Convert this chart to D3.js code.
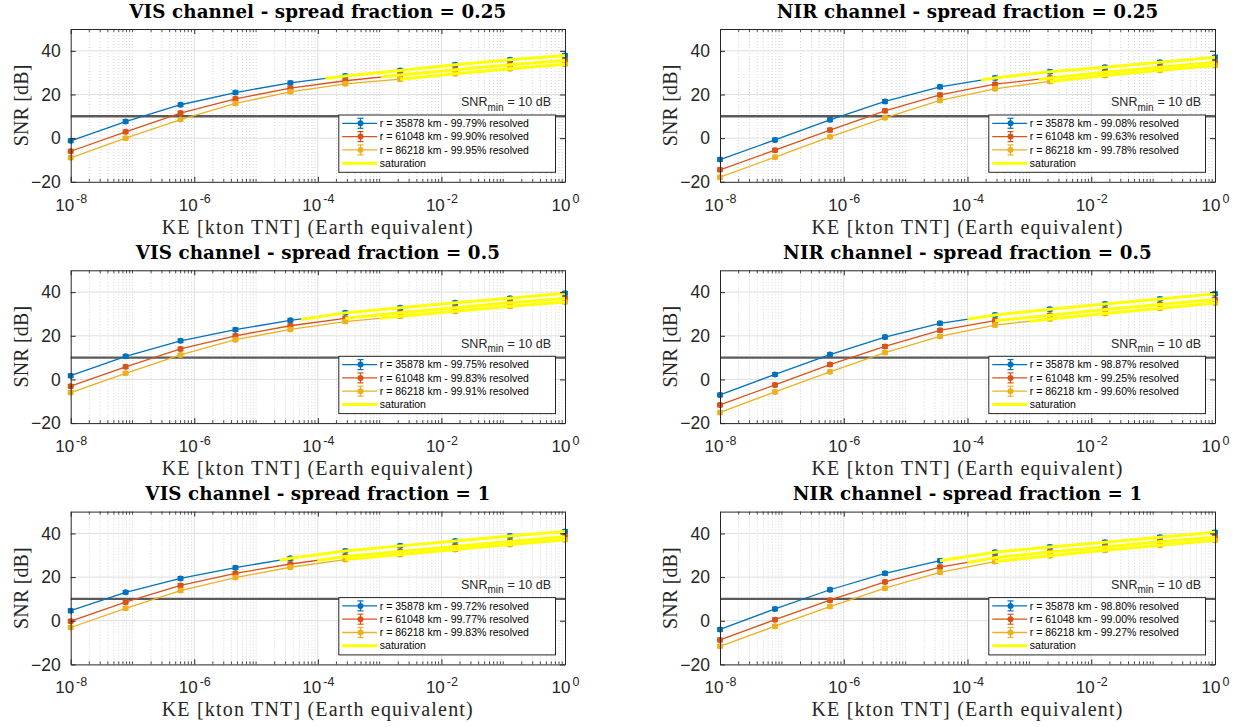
<!DOCTYPE html>
<html><head><meta charset="utf-8">
<script src="https://cdn.jsdelivr.net/npm/d3@7"></script>
<style>body{margin:0;background:#fff}</style>
</head><body>
<svg id="c" width="1240" height="727"></svg>
<script>
// ---------- data ----------
const keValues = [1e-8, 7.74e-8, 5.99e-7, 4.64e-6, 3.59e-5, 2.78e-4, 2.15e-3, 1.67e-2, 1.29e-1, 1];
const rangesKm = [35878, 61048, 86218];
const xMajorTicks = [1e-8, 1e-6, 1e-4, 1e-2, 1];
const xTickExponents = ["-8", "-6", "-4", "-2", "0"];
const yTicks = [-20, 0, 20, 40];
const snrMin = 10;
const errDb = 0.8;

// VIS, spread fraction 0.25
const snrVis025_r1 = [-1.2, 7.6, 15.3, 20.9, 25.3, 28.5, 31.0, 33.6, 35.9, 37.9];
const snrVis025_r2 = [-6.0, 2.9, 11.5, 18.0, 22.9, 26.3, 28.9, 31.3, 33.6, 35.6];
const snrVis025_r3 = [-9.0, 0.0, 8.5, 15.9, 21.2, 24.9, 27.0, 29.5, 31.8, 33.9];
const resVis025 = ["99.79", "99.90", "99.95"];
const satKEVis025 = [1.32e-4, 1.05e-3, 2.15e-3];
const satSNRVis025 = [27.3, 28.0, 27.0];

// NIR, spread fraction 0.25
const snrNir025_r1 = [-9.8, -0.8, 8.4, 16.8, 23.5, 27.6, 30.4, 32.5, 34.8, 37.1];
const snrNir025_r2 = [-14.5, -5.5, 3.7, 12.5, 19.8, 24.7, 27.6, 30.2, 32.5, 34.7];
const snrNir025_r3 = [-17.9, -8.7, 0.6, 9.3, 17.3, 22.6, 26.0, 28.7, 31.1, 33.3];
const resNir025 = ["99.08", "99.63", "99.78"];
const satKENir025 = [1.66e-4, 1.41e-3, 2.15e-3];
const satSNRNir025 = [26.6, 26.8, 26.0];

// VIS, spread fraction 0.5
const snrVis05_r1 = [1.7, 10.6, 17.7, 22.8, 27.1, 30.5, 32.8, 35.1, 37.2, 39.5];
const snrVis05_r2 = [-3.1, 5.8, 14.0, 20.0, 24.6, 28.0, 30.5, 32.8, 35.1, 37.1];
const snrVis05_r3 = [-6.0, 2.8, 11.2, 18.2, 22.9, 26.5, 28.9, 31.2, 33.5, 35.5];
const resVis05 = ["99.75", "99.83", "99.91"];
const satKEVis05 = [5.4e-5, 2.78e-4, 1.0e-3];
const satSNRVis05 = [27.5, 28.0, 28.0];

// NIR, spread fraction 0.5
const snrNir05_r1 = [-7.1, 2.3, 11.4, 19.4, 25.7, 29.5, 32.2, 34.6, 36.9, 39.2];
const snrNir05_r2 = [-11.7, -2.5, 6.8, 15.1, 22.5, 26.9, 29.4, 32.0, 34.3, 36.6];
const snrNir05_r3 = [-15.1, -5.7, 3.5, 12.3, 19.7, 24.9, 27.7, 30.2, 32.6, 35.0];
const resNir05 = ["98.87", "99.25", "99.60"];
const satKENir05 = [1.0e-4, 2.78e-4, 1.0e-3];
const satSNRNir05 = [27.6, 26.9, 26.6];

// VIS, spread fraction 1
const snrVis1_r1 = [4.6, 13.0, 19.4, 24.3, 28.6, 32.0, 34.3, 36.5, 38.8, 40.9];
const snrVis1_r2 = [-0.2, 8.5, 16.2, 21.7, 26.0, 29.4, 31.7, 34.0, 36.3, 38.5];
const snrVis1_r3 = [-3.1, 5.7, 13.8, 19.8, 24.5, 28.0, 30.3, 32.6, 34.9, 37.1];
const resVis1 = ["99.72", "99.77", "99.83"];
const satKEVis1 = [2.4e-5, 9.8e-5, 2.78e-4];
const satSNRVis1 = [27.7, 27.6, 28.0];

// NIR, spread fraction 1
const snrNir1_r1 = [-4.0, 5.4, 14.2, 21.7, 27.5, 31.4, 33.8, 36.0, 38.3, 40.5];
const snrNir1_r2 = [-8.8, 0.5, 9.4, 17.8, 24.6, 28.9, 31.5, 33.8, 36.2, 38.3];
const snrNir1_r3 = [-11.7, -2.5, 6.5, 14.9, 22.2, 27.1, 29.8, 32.3, 34.6, 36.9];
const resNir1 = ["98.80", "99.00", "99.27"];
const satKENir1 = [3.59e-5, 1.0e-4, 2.78e-4];
const satSNRNir1 = [27.5, 26.7, 27.1];

const seriesColors = ["#0072BD", "#D95319", "#EDB120"];
const satColor = "#FFFF00";

const panels = [
  {title: "VIS channel - spread fraction = 0.25", col: 0, row: 0, s: [snrVis025_r1, snrVis025_r2, snrVis025_r3], res: resVis025, sk: satKEVis025, ss: satSNRVis025},
  {title: "NIR channel - spread fraction = 0.25", col: 1, row: 0, s: [snrNir025_r1, snrNir025_r2, snrNir025_r3], res: resNir025, sk: satKENir025, ss: satSNRNir025},
  {title: "VIS channel - spread fraction = 0.5", col: 0, row: 1, s: [snrVis05_r1, snrVis05_r2, snrVis05_r3], res: resVis05, sk: satKEVis05, ss: satSNRVis05},
  {title: "NIR channel - spread fraction = 0.5", col: 1, row: 1, s: [snrNir05_r1, snrNir05_r2, snrNir05_r3], res: resNir05, sk: satKENir05, ss: satSNRNir05},
  {title: "VIS channel - spread fraction = 1", col: 0, row: 2, s: [snrVis1_r1, snrVis1_r2, snrVis1_r3], res: resVis1, sk: satKEVis1, ss: satSNRVis1},
  {title: "NIR channel - spread fraction = 1", col: 1, row: 2, s: [snrNir1_r1, snrNir1_r2, snrNir1_r3], res: resNir1, sk: satKENir1, ss: satSNRNir1}
];

// ---------- layout ----------
const colX = [70.7, 720];
const colW = [494.3, 495];
const rowY = [29, 270.3, 511.6];
const plotH = 152.8;
const serif = "'Liberation Serif', 'Times New Roman', serif";
const titleFont = "'DejaVu Serif', 'Liberation Serif', serif";
const sans = "'Liberation Sans', Arial, Helvetica, sans-serif";
const axisColor = "#262626";

const svg = d3.select("#c");

// letter spacing needed so that text at a given size reaches a target width
function fitSpacing(family, weight, size, str, target) {
  const t = svg.append("text").attr("font-family", family).attr("font-weight", weight)
    .attr("font-size", size).text(str);
  const w = t.node().getComputedTextLength();
  t.remove();
  return Math.max(0, (target - w) / (str.length - 1));
}
const titleSize = 18.3;
const titleSpacing = fitSpacing(titleFont, "bold", titleSize, panels[0].title, 377);
const xlabSize = 20;
const xlabSpacing = fitSpacing(serif, "normal", xlabSize, "KE [kton TNT] (Earth equivalent)", 311);
const ylabSize = 20;
const ylabSpacing = fitSpacing(serif, "normal", ylabSize, "SNR [dB]", 81.7);

panels.forEach(p => {
  const x0 = colX[p.col], w = colW[p.col], y0 = rowY[p.row], h = plotH;
  const x = d3.scaleLog().domain([1e-8, 1]).range([x0, x0 + w]);
  const y = d3.scaleLinear().domain([-20, 50]).range([y0 + h, y0]);
  const g = svg.append("g");

  const minorX = [];
  for (let e = -8; e < 0; e++) {
    for (let k = 1; k <= 9; k++) {
      const v = k * Math.pow(10, e);
      if (k === 1 && e % 2 === 0) continue;
      minorX.push(v);
    }
  }

  g.append("g").selectAll("line").data(minorX).join("line")
    .attr("x1", d => x(d)).attr("x2", d => x(d))
    .attr("y1", y0).attr("y2", y0 + h)
    .attr("stroke", "#c8c8c8").attr("stroke-width", 0.8).attr("stroke-dasharray", "1,2");
  g.append("g").selectAll("line").data(xMajorTicks.slice(1, -1)).join("line")
    .attr("x1", d => x(d)).attr("x2", d => x(d))
    .attr("y1", y0).attr("y2", y0 + h)
    .attr("stroke", "#dfdfdf").attr("stroke-width", 1);
  g.append("g").selectAll("line").data(yTicks.slice(1)).join("line")
    .attr("x1", x0).attr("x2", x0 + w)
    .attr("y1", d => y(d)).attr("y2", d => y(d))
    .attr("stroke", "#dfdfdf").attr("stroke-width", 1);

  g.append("line")
    .attr("x1", x0).attr("x2", x0 + w)
    .attr("y1", y(snrMin)).attr("y2", y(snrMin))
    .attr("stroke", "#5a5a5a").attr("stroke-width", 2.4);

  p.s.forEach((vals, si) => {
    const pts = vals.map((v, i) => ({ke: keValues[i], snr: v}));
    const col = seriesColors[si];
    g.append("path").datum(pts)
      .attr("d", d3.line().x(d => x(d.ke)).y(d => y(d.snr)))
      .attr("fill", "none").attr("stroke", col).attr("stroke-width", 1.3);
    const eg = g.append("g").attr("stroke", col).attr("stroke-width", 1.2);
    eg.selectAll("line.v").data(pts).join("line").attr("class", "v")
      .attr("x1", d => x(d.ke)).attr("x2", d => x(d.ke))
      .attr("y1", d => y(d.snr - errDb)).attr("y2", d => y(d.snr + errDb));
    eg.selectAll("line.t").data(pts).join("line").attr("class", "t")
      .attr("x1", d => x(d.ke) - 3).attr("x2", d => x(d.ke) + 3)
      .attr("y1", d => y(d.snr + errDb)).attr("y2", d => y(d.snr + errDb));
    eg.selectAll("line.b").data(pts).join("line").attr("class", "b")
      .attr("x1", d => x(d.ke) - 3).attr("x2", d => x(d.ke) + 3)
      .attr("y1", d => y(d.snr - errDb)).attr("y2", d => y(d.snr - errDb));
    g.append("g").selectAll("circle").data(pts).join("circle")
      .attr("cx", d => x(d.ke)).attr("cy", d => y(d.snr)).attr("r", 3)
      .attr("fill", col);
  });

  p.s.forEach((vals, si) => {
    const pts = [{ke: p.sk[si], snr: p.ss[si]}].concat(
      vals.map((v, i) => ({ke: keValues[i], snr: v})).filter(d => d.ke > p.sk[si] * 1.01));
    g.append("path").datum(pts)
      .attr("d", d3.line().x(d => x(d.ke)).y(d => y(d.snr)))
      .attr("fill", "none").attr("stroke", satColor).attr("stroke-width", 3);
  });

  const bottom = d3.axisBottom(x).tickValues(xMajorTicks).tickSizeInner(-5).tickSizeOuter(0).tickPadding(17).tickFormat(() => "");
  const top = d3.axisTop(x).tickValues(xMajorTicks).tickSizeInner(-5).tickSizeOuter(0).tickFormat(() => "");
  const left = d3.axisLeft(y).tickValues(yTicks).tickSizeInner(-5).tickSizeOuter(0).tickPadding(10);
  const right = d3.axisRight(y).tickValues(yTicks).tickSizeInner(-5).tickSizeOuter(0).tickFormat(() => "");

  const gb = g.append("g").attr("transform", `translate(0,${y0 + h})`).call(bottom);
  const gt = g.append("g").attr("transform", `translate(0,${y0})`).call(top);
  const gl = g.append("g").attr("transform", `translate(${x0},0)`).call(left);
  const gr = g.append("g").attr("transform", `translate(${x0 + w},0)`).call(right);
  [gb, gt, gl, gr].forEach(a => {
    a.select(".domain").attr("stroke", axisColor).attr("stroke-width", 1);
    a.selectAll(".tick line").attr("stroke", axisColor);
  });
  [[y0 + h, -3], [y0, 3]].forEach(([yy, len]) => {
    g.append("g").selectAll("line").data(minorX).join("line")
      .attr("x1", d => x(d)).attr("x2", d => x(d))
      .attr("y1", yy).attr("y2", yy + len)
      .attr("stroke", axisColor).attr("stroke-width", 0.8);
  });

  gl.selectAll(".tick text").attr("font-family", sans).attr("font-size", 17.5).attr("fill", axisColor);
  gb.selectAll(".tick text").each(function (d, i) {
    const t = d3.select(this).text(null)
      .attr("font-family", sans).attr("font-size", 17).attr("fill", axisColor).attr("text-anchor", "middle");
    t.append("tspan").text("10");
    t.append("tspan").attr("font-size", 12.5).attr("dy", "-0.6em").attr("dx", 2).text(xTickExponents[i]);
  });

  svg.append("text")
    .attr("x", x0 + w / 2).attr("y", y0 - 11.5)
    .attr("text-anchor", "middle").attr("font-family", titleFont).attr("font-weight", "bold")
    .attr("font-size", titleSize).attr("letter-spacing", titleSpacing).attr("fill", "#000").text(p.title);
  svg.append("text")
    .attr("x", x0 + w / 2).attr("y", y0 + h + 52)
    .attr("text-anchor", "middle").attr("font-family", serif)
    .attr("font-size", xlabSize).attr("letter-spacing", xlabSpacing).attr("fill", axisColor).text("KE [kton TNT] (Earth equivalent)");
  svg.append("text")
    .attr("transform", `translate(${x0 - 43},${y0 + h / 2}) rotate(-90)`)
    .attr("text-anchor", "middle").attr("font-family", serif)
    .attr("font-size", ylabSize).attr("letter-spacing", ylabSpacing).attr("fill", axisColor).text("SNR [dB]");

  const ann = svg.append("text")
    .attr("x", x0 + w - 14).attr("y", y(snrMin) - 10)
    .attr("text-anchor", "end").attr("font-family", sans).attr("font-size", 12.5).attr("fill", axisColor);
  ann.append("tspan").text("SNR");
  ann.append("tspan").attr("font-size", 10).attr("dy", 4.5).text("min");
  ann.append("tspan").attr("dy", -4.5).attr("dx", 4).text("= 10 dB");

  const lw = 216.7, lh = 57.3;
  const lx = x0 + w - 9.5 - lw, ly = y0 + h - 9.5 - lh;
  const lg = svg.append("g").attr("transform", `translate(${lx},${ly})`);
  lg.append("rect").attr("width", lw).attr("height", lh)
    .attr("fill", "#fff").attr("stroke", axisColor).attr("stroke-width", 1);
  const rowsY = [8.3, 21.6, 34.9, 48.2];
  rangesKm.forEach((r, si) => {
    const ry = rowsY[si], col = seriesColors[si];
    lg.append("line").attr("x1", 3.4).attr("x2", 38.4).attr("y1", ry).attr("y2", ry)
      .attr("stroke", col).attr("stroke-width", 1.3);
    lg.append("line").attr("x1", 21.7).attr("x2", 21.7).attr("y1", ry - 5).attr("y2", ry + 5)
      .attr("stroke", col).attr("stroke-width", 1.2);
    [ry - 5, ry + 5].forEach(cy => lg.append("line").attr("x1", 18.7).attr("x2", 24.7).attr("y1", cy).attr("y2", cy)
      .attr("stroke", col).attr("stroke-width", 1.2));
    lg.append("circle").attr("cx", 21.7).attr("cy", ry).attr("r", 3).attr("fill", col);
    lg.append("text").attr("x", 41).attr("y", ry).attr("dy", "0.35em")
      .attr("font-family", sans).attr("font-size", 10.5).attr("fill", "#000")
      .text(`r = ${r} km - ${p.res[si]}% resolved`);
  });
  lg.append("line").attr("x1", 3.4).attr("x2", 38.4).attr("y1", rowsY[3]).attr("y2", rowsY[3])
    .attr("stroke", satColor).attr("stroke-width", 3);
  lg.append("text").attr("x", 41).attr("y", rowsY[3]).attr("dy", "0.35em")
    .attr("font-family", sans).attr("font-size", 10.5).attr("fill", "#000").text("saturation");
});
</script>
</body></html>
